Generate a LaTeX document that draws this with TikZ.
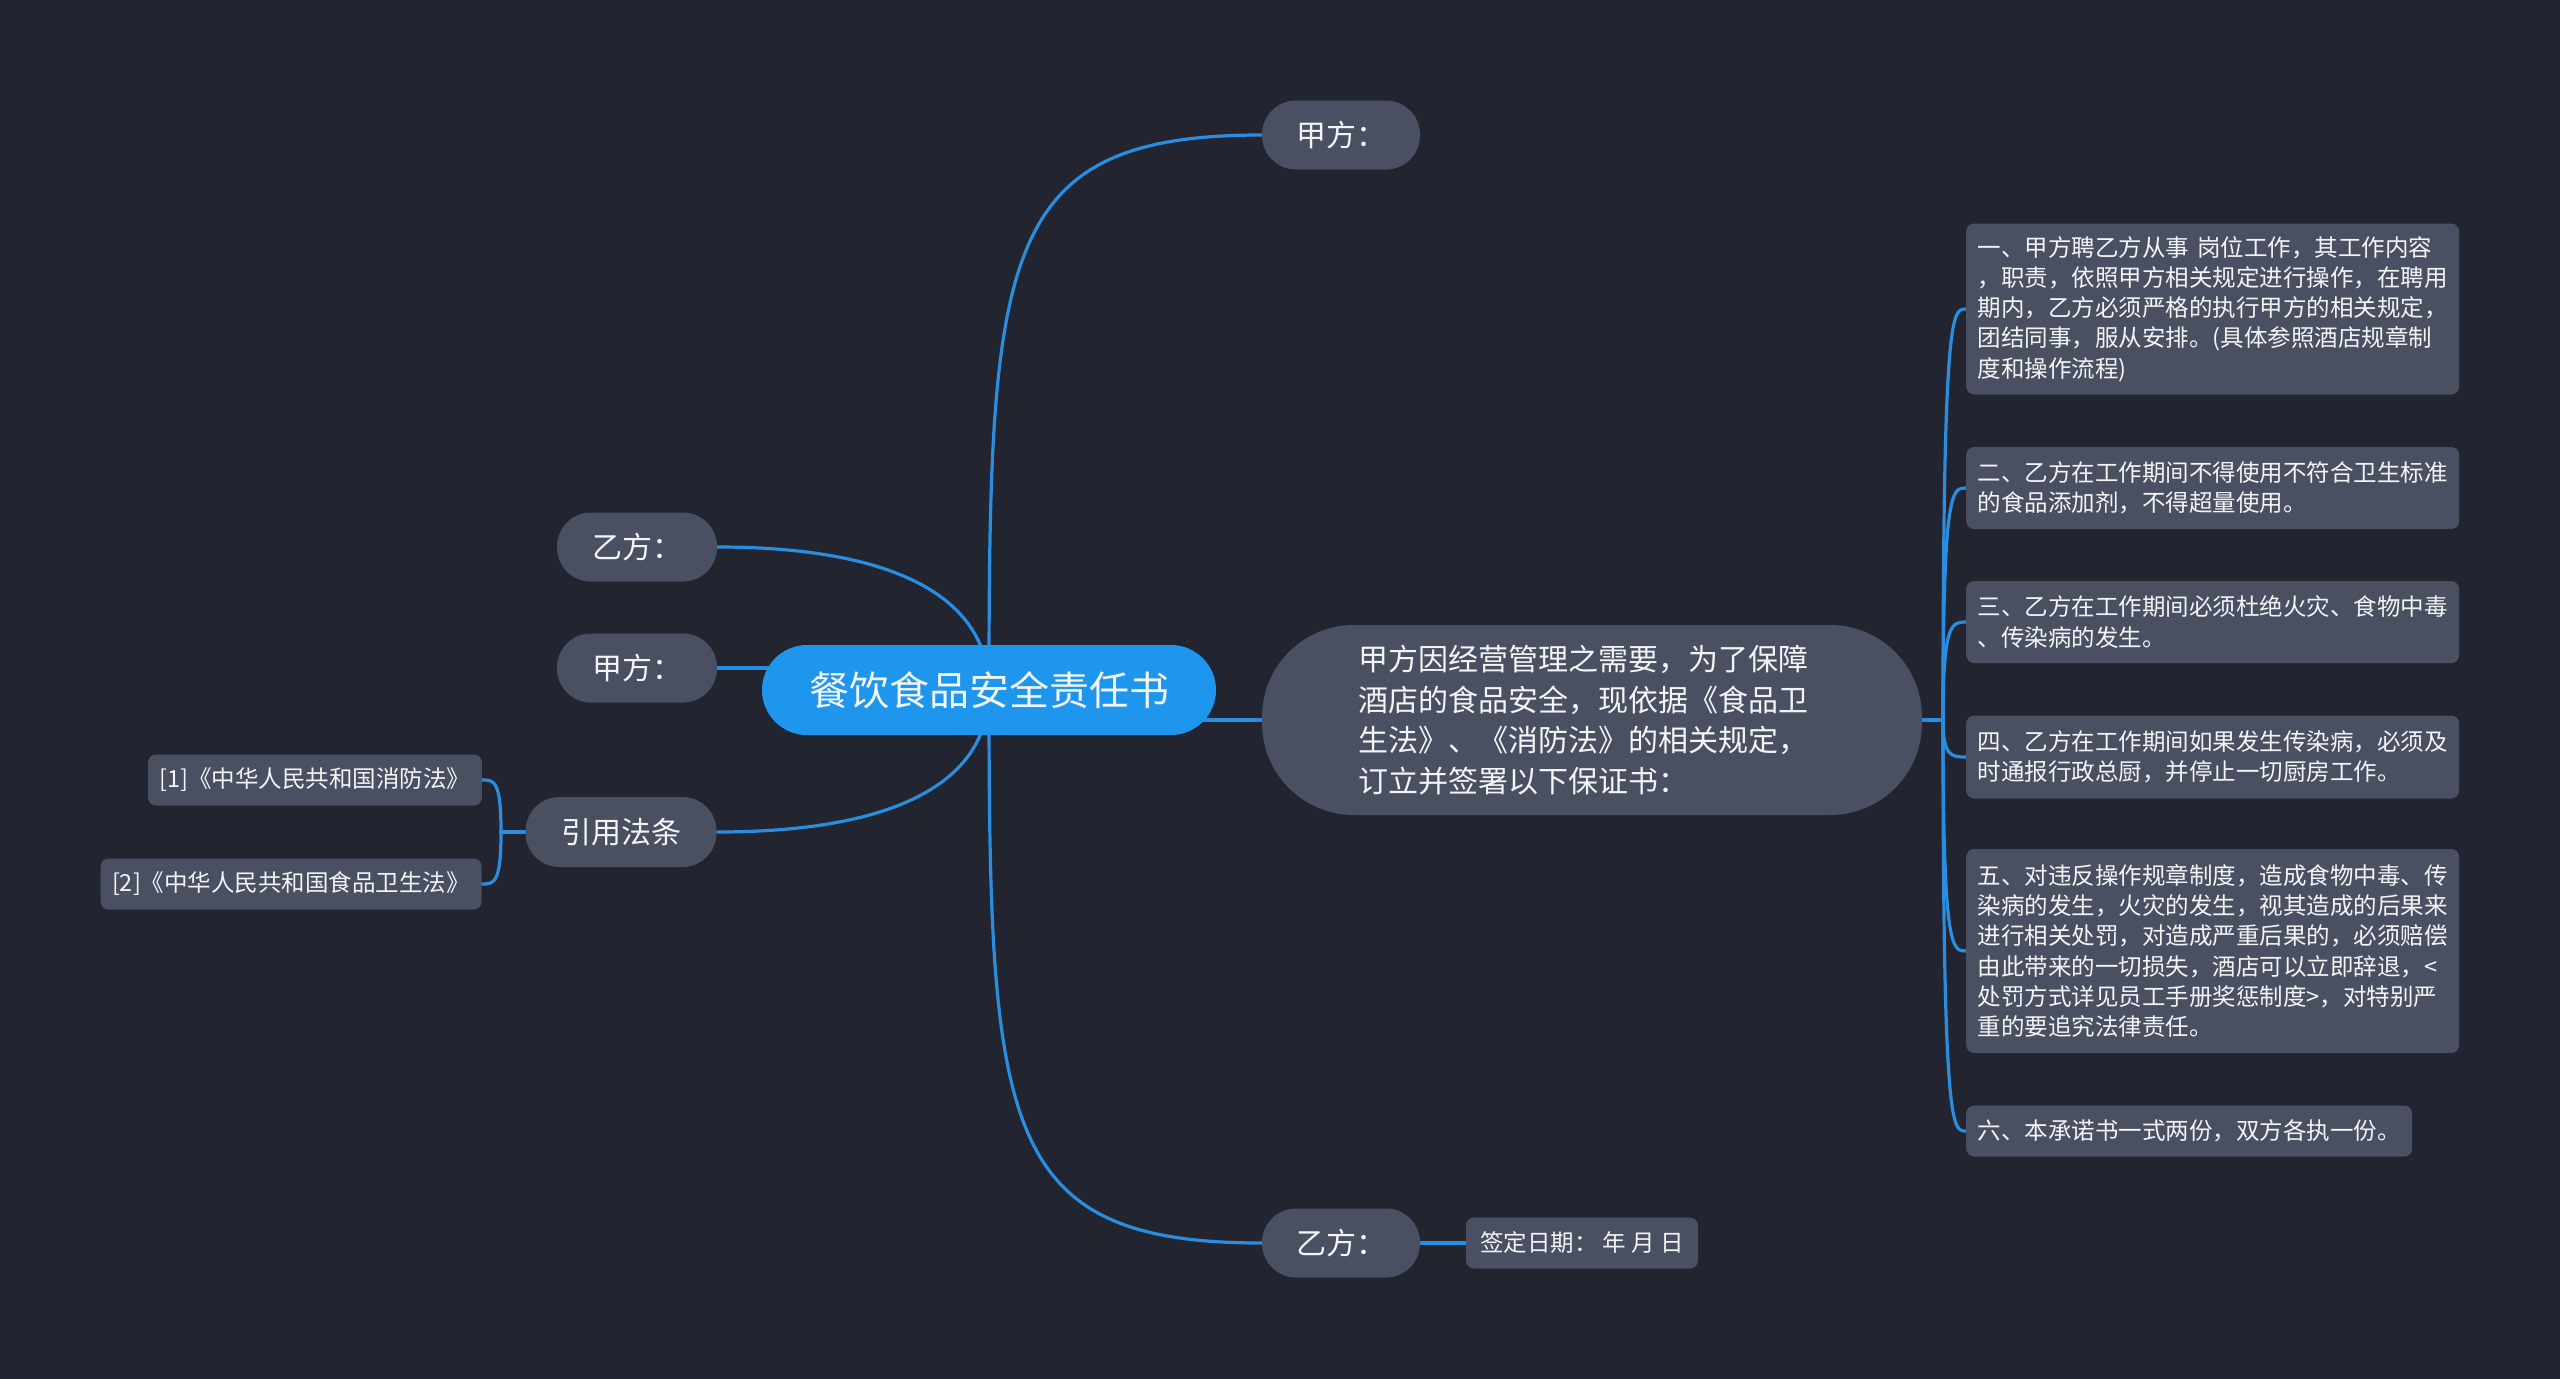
\documentclass[tikz,border=0pt]{standalone}
\usepackage{fontspec}
\newfontfamily\cjk{Noto Sans CJK SC}
\definecolor{bgc}{HTML}{222530}
\definecolor{nodefill}{HTML}{4A5062}
\definecolor{rootfill}{HTML}{1E96EE}
\definecolor{conn}{HTML}{2A8DE0}
\definecolor{txt}{HTML}{F4F5F7}
\pgfdeclarelayer{bottom}
\pgfdeclarelayer{edges}
\pgfsetlayers{bottom,edges,main}
\tikzset{
  rootnode/.style={fill=rootfill, text=txt, rounded corners=45pt, minimum width=454pt, minimum height=90pt, inner sep=0pt, font=\cjk\fontsize{40}{48}\selectfont},
  pill/.style={fill=nodefill, text=txt, rounded corners=34pt, minimum height=69pt, inner sep=0pt, font=\cjk\fontsize{30}{40}\selectfont},
  bignode/.style={fill=nodefill, text=txt, rounded corners=92pt, minimum width=660pt, minimum height=190pt, inner sep=0pt, text width=468pt, align=left, font=\cjk\fontsize{30}{40.5}\selectfont},
  leaf/.style={fill=nodefill, text=txt, rounded corners=8pt, inner xsep=11.5pt, inner ysep=0pt, align=left, font=\cjk\fontsize{23.5}{30.2}\selectfont},
  wide/.style={leaf, text width=470pt},
  conline/.style={draw=conn, line width=3.2pt, line cap=round}
}
\begin{document}
\begin{tikzpicture}[x=1pt,y=-1pt]
\begin{pgfonlayer}{bottom}
\fill[bgc] (0,0) rectangle (2560,1379);
\end{pgfonlayer}
\useasboundingbox (0,0) rectangle (2560,1379);

% nodes
\node[rootnode] (root) at (989,690) {餐饮食品安全责任书};
\node[pill, minimum width=158pt] (jatop) at (1341,135) {甲方：};
\node[pill, minimum width=158pt] (yibot) at (1341,1243) {乙方：};
\node[leaf, minimum width=232pt, minimum height=51pt, align=center] (date) at (1582,1243) {签定日期：\ 年 月 日};
\node[pill, minimum width=160pt] (yileft) at (637,547) {乙方：};
\node[pill, minimum width=160pt] (jaleft) at (637,668) {甲方：};
\node[pill, minimum width=191pt, minimum height=70pt] (law) at (621,832) {引用法条};
\node[leaf, minimum width=333pt, minimum height=51pt, align=center] (ref1) at (315,780) {[1]《中华人民共和国消防法》};
\node[leaf, minimum width=381pt, minimum height=51pt, align=center] (ref2) at (291,884) {[2]《中华人民共和国食品卫生法》};
\node[bignode] (main) at (1592,720) {甲方因经营管理之需要，为了保障\\酒店的食品安全，现依据《食品卫\\生法》、《消防法》的相关规定，\\订立并签署以下保证书：};

\node[wide, anchor=west, minimum height=171pt] (c1) at (1966,309) {一、甲方聘乙方从事 岗位工作，其工作内容\\，职责，依照甲方相关规定进行操作，在聘用\\期内，乙方必须严格的执行甲方的相关规定，\\团结同事，服从安排。(具体参照酒店规章制\\度和操作流程)};
\node[wide, anchor=west, minimum height=82pt] (c2) at (1966,488) {二、乙方在工作期间不得使用不符合卫生标准\\的食品添加剂，不得超量使用。};
\node[wide, anchor=west, minimum height=82pt] (c3) at (1966,622) {三、乙方在工作期间必须杜绝火灾、食物中毒\\、传染病的发生。};
\node[wide, anchor=west, minimum height=83pt] (c4) at (1966,757) {四、乙方在工作期间如果发生传染病，必须及\\时通报行政总厨，并停止一切厨房工作。};
\node[wide, anchor=west, minimum height=204pt] (c5) at (1966,951) {五、对违反操作规章制度，造成食物中毒、传\\染病的发生，火灾的发生，视其造成的后果来\\进行相关处罚，对造成严重后果的，必须赔偿\\由此带来的一切损失，酒店可以立即辞退，<\\处罚方式详见员工手册奖惩制度>，对特别严\\重的要追究法律责任。};
\node[leaf, anchor=west, minimum height=51pt] (c6) at (1966,1131) {六、本承诺书一式两份，双方各执一份。};

\coordinate (rb) at (1943,720);
\coordinate (lb) at (501,832);

% connectors
\begin{pgfonlayer}{edges}
\draw[conline] (root.center) .. controls (989,250) and (1000,135) .. (jatop.west);
\draw[conline] (root.center) .. controls (989,1130) and (1000,1243) .. (yibot.west);
\draw[conline] (yibot.east) -- (date.west);
\draw[conline] (yileft.east) .. controls (900,547) and (989,600) .. (root.center);
\draw[conline] (jaleft.east) -- (jaleft.east -| root.center);
\draw[conline] (law.east) .. controls (900,832) and (989,780) .. (root.center);
\draw[conline] (law.west) -- (lb);
\draw[conline] (lb) .. controls (501,780) and (494,780) .. (ref1.east);
\draw[conline] (lb) .. controls (501,884) and (494,884) .. (ref2.east);
\draw[conline] (root.center |- main.west) -- (main.west);
\draw[conline] (main.east) -- (rb);
\foreach \c in {c1,c2,c3,c4,c5,c6}{
  \draw[conline] (rb) .. controls (rb |- \c.west) and ([xshift=-14pt]\c.west) .. (\c.west);
}
\end{pgfonlayer}
\end{tikzpicture}
\end{document}
